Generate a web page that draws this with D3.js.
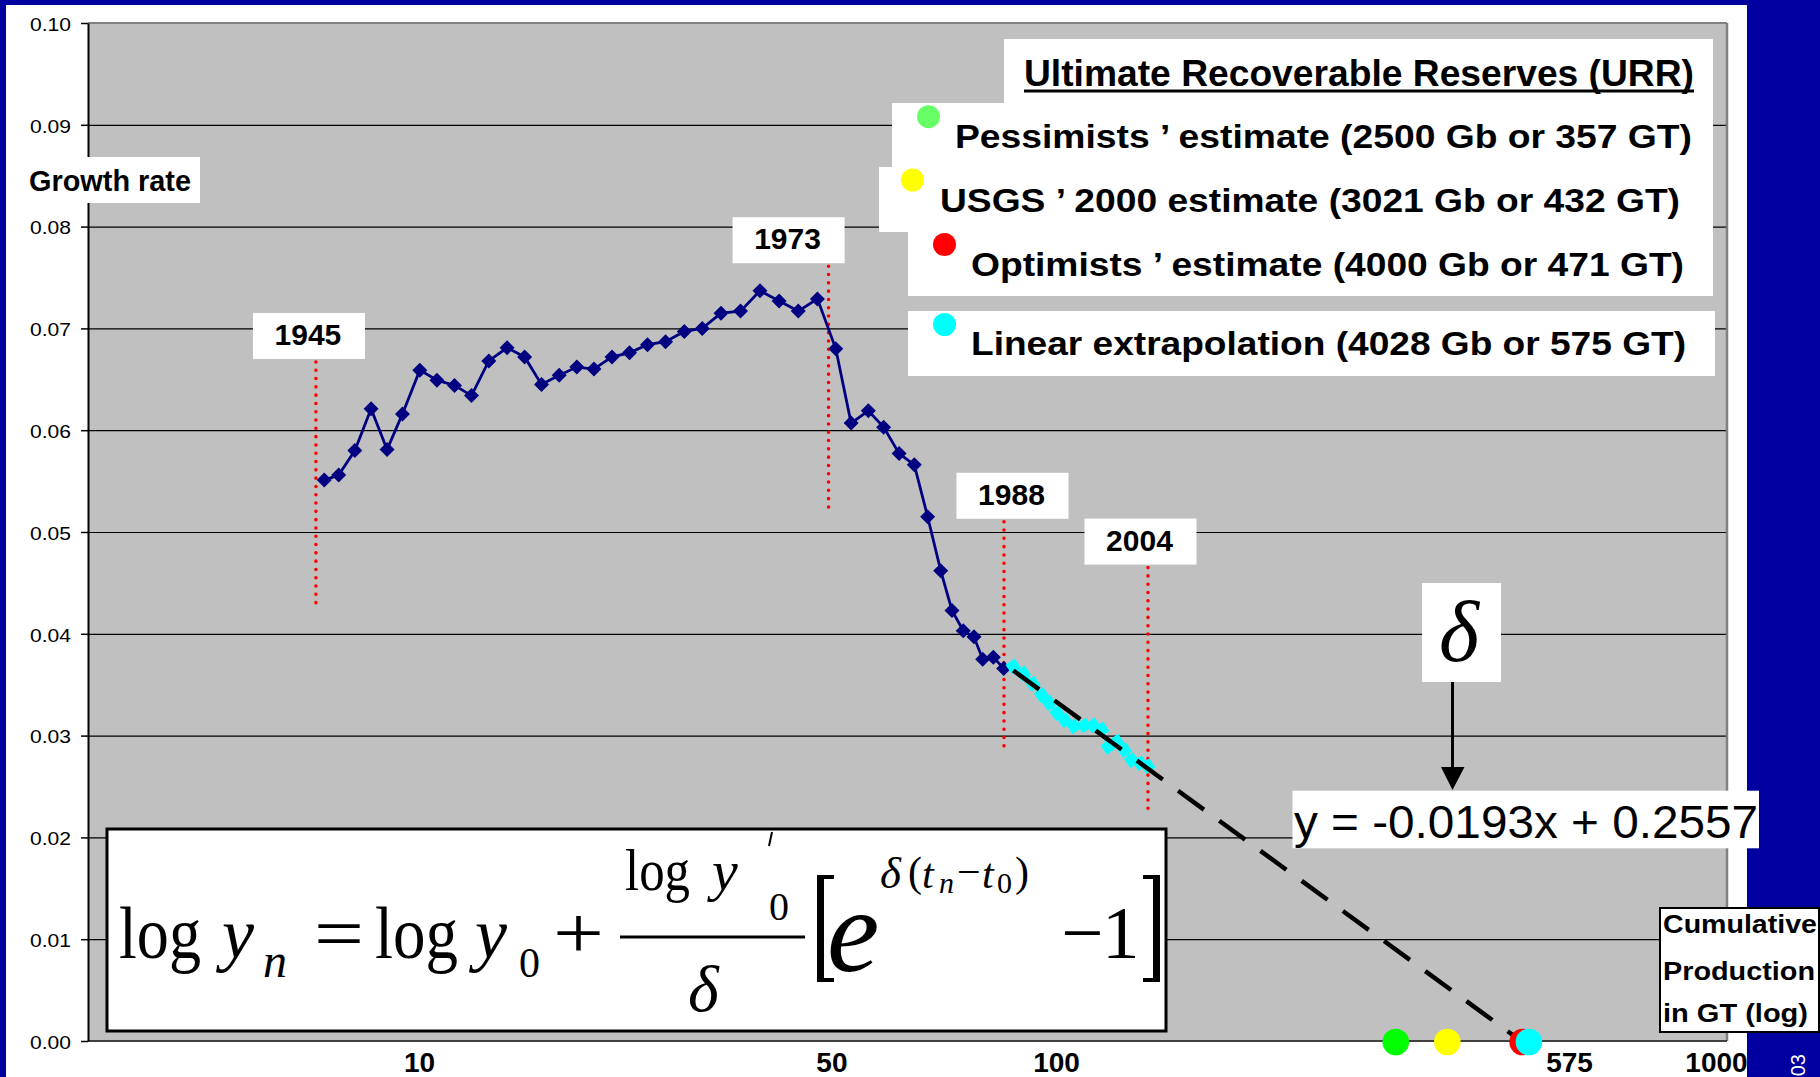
<!DOCTYPE html>
<html><head><meta charset="utf-8">
<script src="https://cdn.jsdelivr.net/npm/d3@7"></script>
<style>html,body{margin:0;padding:0;background:#0000a0;overflow:hidden}svg{display:block}</style>
</head><body>
<svg id="c" width="1820" height="1077"></svg>
<script>
// ---------- DATA ----------
// Cumulative production (GT) and growth rate, 1945-1988 (navy series)
const cumProd = [7.10, 7.48, 7.93, 8.41, 8.91, 9.42, 10.03, 10.67, 11.37, 12.09, 12.87, 13.75, 14.65, 15.57,
  16.60, 17.69, 18.82, 20.09, 21.40, 22.84, 24.38, 26.09, 27.84, 29.79, 31.97, 34.30, 36.76, 39.39, 42.22,
  45.11, 47.68, 50.74, 53.63, 56.72, 59.92, 62.88, 65.92, 68.66, 71.52, 74.34, 76.72, 79.72, 82.78];
const growth = [0.0551, 0.0556, 0.0580, 0.0621, 0.0581, 0.0616, 0.0659, 0.0649, 0.0644, 0.0634, 0.0668, 0.0681,
  0.0672, 0.0645, 0.0654, 0.0662, 0.0660, 0.0672, 0.0676, 0.0684, 0.0687, 0.0697, 0.0700, 0.0715, 0.0717,
  0.0737, 0.0727, 0.0717, 0.0729, 0.0680, 0.0607, 0.0619, 0.0603, 0.0577, 0.0566, 0.0515, 0.0462, 0.0423,
  0.0403, 0.0397, 0.0375, 0.0377, 0.0366];
// 1988-2004 points used for the linear fit (cyan series)
const fitProd = [85.70, 88.85, 91.92, 94.96, 97.60, 100.47, 103.31, 106.72, 110.77, 114.43, 117.96, 120.81,
  124.54, 128.01, 131.48, 135.48, 139.30];
const fitGrowth = [0.0368, 0.0361, 0.0351, 0.0340, 0.0332, 0.0322, 0.0315, 0.0309, 0.0310, 0.0310, 0.0306,
  0.0289, 0.0294, 0.0286, 0.0276, 0.0273, 0.0270];
// Linear extrapolation (dashed trend)
const trendProd = [85.7, 537];
const trendGrowth = [0.0364, 0.0];
// URR estimates on the axis
const urrLabels = ["Pessimists \u2019 estimate (2500 Gb or 357 GT)", "USGS \u2019 2000 estimate (3021 Gb or 432 GT)",
  "Optimists \u2019 estimate (4000 Gb or 471 GT)", "Linear extrapolation (4028 Gb or 575 GT)"];
const urrProd = [341.5, 411.5, 540.2, 552.6];
const urrColors = ["#00ff00", "#ffff00", "#ff0000", "#00ffff"];
const urrLegendColors = ["#66ff66", "#ffff00", "#ff0000", "#00ffff"];
// Event years
const eventYears = ["1945", "1973", "1988", "2004"];
const eventProd = [6.89, 43.95, 82.86, 139.45];
const eventTop = [0.0670, 0.0764, 0.0513, 0.0468];
const eventBottom = [0.0424, 0.0519, 0.0283, 0.0222];
// Axes
const yTicks = [0, 0.01, 0.02, 0.03, 0.04, 0.05, 0.06, 0.07, 0.08, 0.09, 0.10];
const xTickValues = [10, 44.4, 100, 638.8, 1086.6];
const xTickLabels = ["10", "50", "100", "575", "1000"];

// ---------- DRAW ----------
const svg = d3.select("#c");
const SANS = "'Liberation Sans', Arial, sans-serif";
const NARROW = "'Liberation Sans Narrow', 'Arial Narrow', 'Liberation Sans', Arial, sans-serif";
const SERIF = "'Liberation Serif', 'Times New Roman', serif";
const L = 88, R = 1727, T = 23, B = 1041;

const x = d3.scaleLog().domain([10, 100]).range([419, 1056]);
const y = d3.scaleLinear().domain([0, 0.1]).range([B, T]);

// page
svg.append("rect").attr("x", 6).attr("y", 5).attr("width", 1741).attr("height", 1072).attr("fill", "#fff");
// plot area
svg.append("rect").attr("x", L).attr("y", T).attr("width", R - L).attr("height", B - T).attr("fill", "#c0c0c0");

// grid
svg.append("g").attr("transform", `translate(${L},0)`)
  .call(d3.axisLeft(y).tickValues(yTicks.slice(1, -1)).tickSize(-(R - L)).tickFormat(""))
  .call(g => g.select(".domain").remove())
  .selectAll("line").attr("stroke", "#000").attr("stroke-width", 1.2);

// borders
svg.append("line").attr("x1", L).attr("x2", R).attr("y1", T).attr("y2", T).attr("stroke", "#808080").attr("stroke-width", 2);
svg.append("line").attr("x1", R).attr("x2", R).attr("y1", T).attr("y2", B).attr("stroke", "#808080").attr("stroke-width", 2.5);
svg.append("line").attr("x1", L).attr("x2", R).attr("y1", B).attr("y2", B).attr("stroke", "#404040").attr("stroke-width", 2);

// y axis
const ya = svg.append("g").attr("transform", `translate(${L},0)`)
  .call(d3.axisLeft(y).tickValues(yTicks).tickFormat(d3.format(".2f")).tickSize(7).tickPadding(10).tickSizeOuter(0));
ya.select(".domain").attr("stroke", "#000").attr("stroke-width", 2);
ya.selectAll(".tick line").attr("stroke", "#000").attr("stroke-width", 1.5);
ya.selectAll("text").attr("font-family", SANS).attr("font-size", 19).attr("fill", "#000")
  .attr("dy", "0.38em").attr("textLength", 41).attr("lengthAdjust", "spacingAndGlyphs");

// x axis labels
const xa = svg.append("g").attr("transform", `translate(0,${B})`)
  .call(d3.axisBottom(x).tickValues(xTickValues).tickFormat((d, i) => xTickLabels[i]).tickSize(0).tickPadding(11.6));
xa.select(".domain").remove();
xa.selectAll("text").attr("font-family", SANS).attr("font-size", 28).attr("font-weight", "bold").attr("fill", "#000");

// event dotted lines
eventYears.forEach((yr, i) => {
  svg.append("line").attr("x1", x(eventProd[i])).attr("x2", x(eventProd[i]))
    .attr("y1", y(eventTop[i]) + 3).attr("y2", y(eventBottom[i]))
    .attr("stroke", "#ff0000").attr("stroke-width", 3.6).attr("stroke-linecap", "round")
    .attr("stroke-dasharray", "0,8.3");
});
// event labels
const boxDx = [-7, -40, 8.5, -7.5];
eventYears.forEach((yr, i) => {
  const cx = x(eventProd[i]) + boxDx[i], top = y(eventTop[i]) - 46;
  svg.append("rect").attr("x", cx - 56).attr("y", top).attr("width", 112).attr("height", 46).attr("fill", "#fff");
  svg.append("text").attr("x", cx - 1).attr("y", top + 32).attr("text-anchor", "middle")
    .attr("font-family", SANS).attr("font-size", 30).attr("font-weight", "bold").text(yr);
});

// navy series
const diamond = h => `M0,${-h}L${h},0L0,${h}L${-h},0Z`;
const navy = cumProd.map((q, i) => [q, growth[i]]);
svg.append("path").datum(navy)
  .attr("d", d3.line().x(d => x(d[0])).y(d => y(d[1])))
  .attr("fill", "none").attr("stroke", "#000080").attr("stroke-width", 2.8);
svg.append("g").selectAll("path").data(navy).join("path")
  .attr("transform", d => `translate(${x(d[0])},${y(d[1])})`).attr("d", diamond(7.5)).attr("fill", "#000080");

// cyan series
const fit = fitProd.map((q, i) => [q, fitGrowth[i]]);
svg.append("path").datum(fit)
  .attr("d", d3.line().x(d => x(d[0])).y(d => y(d[1])))
  .attr("fill", "none").attr("stroke", "#00ffff").attr("stroke-width", 3);
svg.append("g").selectAll("path").data(fit).join("path")
  .attr("transform", d => `translate(${x(d[0])},${y(d[1])}) rotate(10)`).attr("d", diamond(8)).attr("fill", "#00ffff");

// dashed trend
const trend = trendProd.map((q, i) => [q, trendGrowth[i]]);
svg.append("path").datum(trend)
  .attr("d", d3.line().x(d => x(d[0])).y(d => y(d[1])))
  .attr("fill", "none").attr("stroke", "#000").attr("stroke-width", 4.5).attr("stroke-dasharray", "32,19");

// URR dots on axis
svg.append("g").selectAll("circle").data(urrProd).join("circle")
  .attr("cx", d => x(d)).attr("cy", y(0) + 1).attr("r", 13.3).attr("fill", (d, i) => urrColors[i]);

// ---------- LEGEND ----------
const legendBoxes = [[1004, 39, 709, 64], [892, 103, 821, 64], [879, 167, 834, 65], [908, 232, 805, 64], [908, 311, 807, 65]];
legendBoxes.forEach(b => svg.append("rect").attr("x", b[0]).attr("y", b[1]).attr("width", b[2]).attr("height", b[3]).attr("fill", "#fff"));
svg.append("text").attr("x", 1024).attr("y", 86).attr("font-family", NARROW).attr("font-weight", "bold").attr("font-size", 36)
  .attr("textLength", 670).attr("lengthAdjust", "spacingAndGlyphs").text("Ultimate Recoverable Reserves (URR)");
svg.append("rect").attr("x", 1024).attr("y", 89.5).attr("width", 670).attr("height", 3).attr("fill", "#000");
const legText = [[955, 148, 737], [940, 212, 740], [971, 276, 713], [971, 355, 715]];
const legDot = [[928.5, 116.7], [912.5, 180], [944.5, 244.5], [944.5, 324.5]];
urrLabels.forEach((t, i) => {
  svg.append("circle").attr("cx", legDot[i][0]).attr("cy", legDot[i][1]).attr("r", 11.5).attr("fill", urrLegendColors[i]);
  svg.append("text").attr("x", legText[i][0]).attr("y", legText[i][1]).attr("font-family", NARROW).attr("font-weight", "bold")
    .attr("font-size", 33).attr("textLength", legText[i][2]).attr("lengthAdjust", "spacingAndGlyphs").text(t);
});

// Growth rate label
svg.append("rect").attr("x", 20).attr("y", 157).attr("width", 180).attr("height", 46).attr("fill", "#fff");
svg.append("text").attr("x", 29).attr("y", 190.5).attr("font-family", SANS).attr("font-weight", "bold").attr("font-size", 29)
  .attr("textLength", 162).attr("lengthAdjust", "spacingAndGlyphs").text("Growth rate");

// Cumulative production label
svg.append("rect").attr("x", 1660).attr("y", 908).attr("width", 159).attr("height", 124).attr("fill", "#fff").attr("stroke", "#000").attr("stroke-width", 2);
[["Cumulative", 933, 154], ["Production", 980, 152], ["in GT (log)", 1022, 145]].forEach(r => {
  svg.append("text").attr("x", 1663).attr("y", r[1]).attr("font-family", SANS).attr("font-weight", "bold").attr("font-size", 25)
    .attr("textLength", r[2]).attr("lengthAdjust", "spacingAndGlyphs").text(r[0]);
});

// delta box + arrow
svg.append("rect").attr("x", 1422).attr("y", 583).attr("width", 79).attr("height", 99).attr("fill", "#fff");
svg.append("text").attr("x", 1459).attr("y", 661).attr("text-anchor", "middle").attr("font-family", SERIF)
  .attr("font-style", "italic").attr("font-size", 86).text("\u03b4");
svg.append("line").attr("x1", 1452.5).attr("x2", 1452.5).attr("y1", 682).attr("y2", 770).attr("stroke", "#000").attr("stroke-width", 3);
svg.append("path").attr("d", "M1441,767L1464.5,767L1452.5,790Z").attr("fill", "#000");

// regression equation
svg.append("rect").attr("x", 1292.5).attr("y", 790.7).attr("width", 466.5).attr("height", 57.6).attr("fill", "#fff");
svg.append("text").attr("x", 1294).attr("y", 837.7).attr("font-family", SANS).attr("font-size", 46)
  .attr("textLength", 464).attr("lengthAdjust", "spacingAndGlyphs").text("y = -0.0193x + 0.2557");

// ---------- FORMULA ----------
svg.append("rect").attr("x", 107).attr("y", 829).attr("width", 1059).attr("height", 202).attr("fill", "#fff").attr("stroke", "#000").attr("stroke-width", 3);
const fg = svg.append("g").attr("font-family", SERIF).attr("fill", "#000");
// [text, x, baseline, size, italic, textLength]
const pieces = [
  ["log", 119, 958, 75, false, 82],
  ["y", 222, 958, 72, true, 0],
  ["n", 263, 977, 48, true, 0],
  ["=", 314, 958, 75, false, 50],
  ["log", 375, 958, 75, false, 83],
  ["y", 475, 958, 72, true, 0],
  ["0", 519, 977, 42, false, 0],
  ["+", 553, 958, 75, false, 51],
  ["log", 625, 890, 59, false, 65],
  ["y", 712, 890, 58, true, 0],
  ["0", 769, 920, 40, false, 0],
  ["\u03b4", 688, 1011, 66, true, 0],
  ["e", 827, 971, 118, true, 0],
  ["\u03b4", 880, 888, 45, true, 0],
  ["(", 908, 886, 42, false, 0],
  ["t", 922, 888, 42, true, 0],
  ["n", 939, 893, 30, true, 0],
  ["\u2212", 957, 886, 42, false, 0],
  ["t", 982, 888, 42, true, 0],
  ["0", 997, 893, 30, false, 0],
  [")", 1015, 886, 42, false, 0],
  ["\u2212", 1061, 958, 75, false, 0],
  ["1", 1102, 958, 75, false, 0]
];
pieces.forEach(p => {
  const t = fg.append("text").attr("x", p[1]).attr("y", p[2]).attr("font-size", p[3])
    .attr("font-style", p[4] ? "italic" : "normal").text(p[0]);
  if (p[5]) t.attr("textLength", p[5]).attr("lengthAdjust", "spacingAndGlyphs");
});
// prime
fg.append("line").attr("x1", 772).attr("y1", 832).attr("x2", 769).attr("y2", 846).attr("stroke", "#000").attr("stroke-width", 2);
// fraction bar
fg.append("rect").attr("x", 620).attr("y", 935.5).attr("width", 185).attr("height", 3).attr("fill", "#000");
// brackets
fg.append("rect").attr("x", 817).attr("y", 875).attr("width", 7).attr("height", 107);
fg.append("rect").attr("x", 817).attr("y", 875).attr("width", 17).attr("height", 4);
fg.append("rect").attr("x", 817).attr("y", 978).attr("width", 17).attr("height", 4);
fg.append("rect").attr("x", 1153).attr("y", 875).attr("width", 7).attr("height", 107);
fg.append("rect").attr("x", 1143).attr("y", 875).attr("width", 17).attr("height", 4);
fg.append("rect").attr("x", 1143).attr("y", 978).attr("width", 17).attr("height", 4);

// rotated footer text in blue panel
svg.append("text").attr("transform", "translate(1805,1054) rotate(-90)").attr("text-anchor", "end")
  .attr("font-family", SANS).attr("font-size", 20).attr("fill", "#fff").text("03");
</script>
</body></html>
